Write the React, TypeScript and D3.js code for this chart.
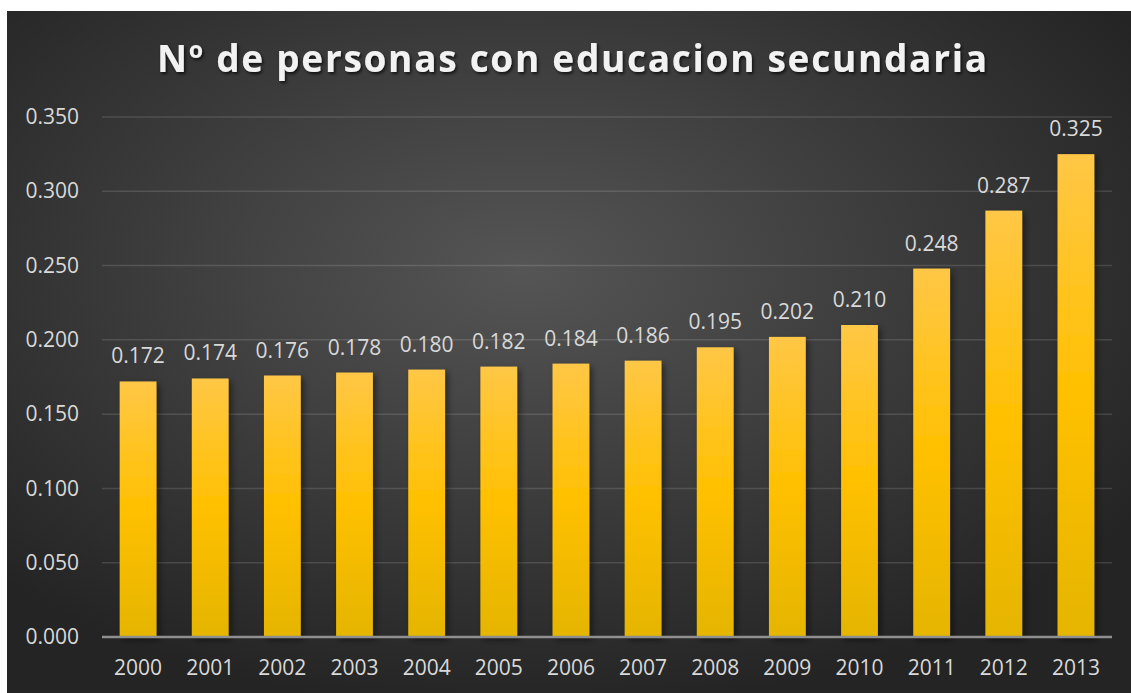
import * as d3 from 'd3'

const years = ['2000', '2001', '2002', '2003', '2004', '2005', '2006', '2007', '2008', '2009', '2010', '2011', '2012', '2013']
const values = [0.172, 0.174, 0.176, 0.178, 0.180, 0.182, 0.184, 0.186, 0.195, 0.202, 0.210, 0.248, 0.287, 0.325]
const yTicks = [0, 0.05, 0.1, 0.15, 0.2, 0.25, 0.3, 0.35]
const title = 'Nº de personas con educacion secundaria'

const W = 1131
const H = 693
const font = '"Open Sans", "DejaVu Sans", sans-serif'

export default function App() {
  const margin = { top: 117, right: 19, bottom: 56, left: 102 }

  const x = d3.scaleBand()
    .domain(years)
    .range([margin.left, W - margin.right])
    .paddingInner(0.49)
    .paddingOuter(0.245)

  const y = d3.scaleLinear()
    .domain([0, 0.35])
    .range([H - margin.bottom, margin.top])

  const fmt = d3.format('.3f')

  return (
    <svg width={W} height={H} style={{ position: 'absolute', left: 0, top: 0 }}>
      <defs>
        <radialGradient id="bg" cx="46%" cy="38%" r="65%">
          <stop offset="0%" stopColor="#555555" />
          <stop offset="55%" stopColor="#3a3a3a" />
          <stop offset="100%" stopColor="#242424" />
        </radialGradient>
        <linearGradient id="bar" x1="0" y1="0" x2="0" y2="1">
          <stop offset="0%" stopColor="#ffc746" />
          <stop offset="50%" stopColor="#ffc000" />
          <stop offset="100%" stopColor="#e5b500" />
        </linearGradient>
        <filter id="shadow" x="-20%" y="-20%" width="150%" height="150%">
          <feDropShadow dx="3" dy="3" stdDeviation="3" floodColor="#000" floodOpacity="0.45" />
        </filter>
        <filter id="tshadow" x="-5%" y="-30%" width="110%" height="170%">
          <feDropShadow dx="1.5" dy="2" stdDeviation="1.5" floodColor="#000" floodOpacity="0.7" />
        </filter>
      </defs>
      <rect x={0} y={0} width={W} height={H} fill="#ffffff" />
      <rect x={7} y={11} width={W - 7} height={H - 11} fill="url(#bg)" />

      <text
        x={572}
        y={72}
        textAnchor="middle"
        fontFamily={font}
        fontWeight={700}
        fontSize={37}
        fill="#f2f2f2"
        textLength={830}
        lengthAdjust="spacing"
        filter="url(#tshadow)"
      >
        {title}
      </text>

      {yTicks.map(t => (
        <g key={t}>
          {t > 0 && (
            <line
              x1={margin.left}
              x2={W - margin.right}
              y1={y(t)}
              y2={y(t)}
              stroke="#ffffff"
              strokeOpacity={0.13}
              strokeWidth={1.5}
            />
          )}
          <text
            x={79}
            y={y(t)}
            dy="0.34em"
            textAnchor="end"
            fontFamily={font}
            fontSize={21}
            fill="#d9d9d9"
          >
            {fmt(t)}
          </text>
        </g>
      ))}

      <g filter="url(#shadow)">
        {values.map((v, i) => (
          <rect
            key={years[i]}
            x={x(years[i])}
            y={y(v)}
            width={x.bandwidth()}
            height={y(0) - y(v)}
            fill="url(#bar)"
          />
        ))}
      </g>

      <line
        x1={margin.left}
        x2={W - margin.right}
        y1={y(0)}
        y2={y(0)}
        stroke="#8f8f8f"
        strokeWidth={2.5}
      />

      {values.map((v, i) => (
        <text
          key={'l' + years[i]}
          x={(x(years[i]) ?? 0) + x.bandwidth() / 2}
          y={y(v) - 18}
          textAnchor="middle"
          fontFamily={font}
          fontSize={21}
          fill="#d9d9d9"
        >
          {fmt(v)}
        </text>
      ))}

      {years.map(yr => (
        <text
          key={'x' + yr}
          x={(x(yr) ?? 0) + x.bandwidth() / 2}
          y={675}
          textAnchor="middle"
          fontFamily={font}
          fontSize={21}
          fill="#d9d9d9"
        >
          {yr}
        </text>
      ))}
    </svg>
  )
}
